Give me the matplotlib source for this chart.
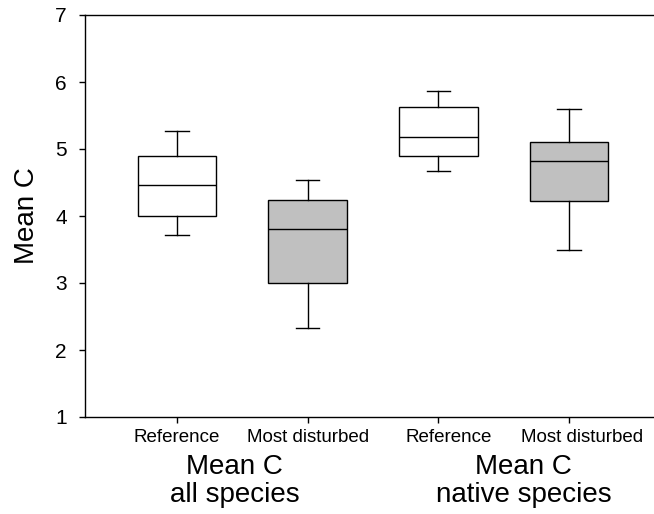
import matplotlib
matplotlib.use("Agg")
import matplotlib.pyplot as plt
import matplotlib.transforms as mtransforms

plt.rcParams['font.family'] = ['Liberation Sans', 'DejaVu Sans']

# box statistics
labels = ["Reference", "Most disturbed", "Reference", "Most disturbed"]
whislo = [3.72, 2.33, 4.67, 3.50]
q1 = [4.00, 3.00, 4.89, 4.23]
med = [4.47, 3.80, 5.18, 4.82]
q3 = [4.90, 4.24, 5.62, 5.10]
whishi = [5.27, 4.53, 5.87, 5.60]
fills = ["white", "#c0c0c0", "white", "#c0c0c0"]
groups = ["Mean C\nall species", "Mean C\nnative species"]

stats = []
for i in range(len(labels)):
    stats.append(dict(label=labels[i], whislo=whislo[i], q1=q1[i], med=med[i],
                      q3=q3[i], whishi=whishi[i], fliers=[]))

fig = plt.figure(figsize=(6.54, 5.14), dpi=100)
ax = fig.add_axes([85/654, 97/514, 569/654, 402/514])

lw = 1.0
bp = ax.bxp(stats, positions=[1, 2, 3, 4], widths=0.6, capwidths=0.18,
            patch_artist=True, showfliers=False,
            boxprops=dict(linewidth=lw, edgecolor="black"),
            medianprops=dict(color="black", linewidth=lw),
            whiskerprops=dict(color="black", linewidth=lw),
            capprops=dict(color="black", linewidth=lw))
for patch, c in zip(bp["boxes"], fills):
    patch.set_facecolor(c)

ax.set_xlim(0.296, 4.65)
ax.set_ylim(1, 7)
ax.set_yticks(range(1, 8))
ax.tick_params(axis="y", labelsize=15, length=4, width=1, direction="out", pad=9)
ax.tick_params(axis="x", labelsize=13.5, length=4, width=1, direction="out", pad=5)
ax.set_ylabel("Mean C", fontsize=20, labelpad=11)

# the right-hand pair of labels sits a little right of its ticks
shift = [0, 0, 10, 13]
for lab, dx in zip(ax.get_xticklabels(), shift):
    off = mtransforms.ScaledTranslation(dx / 100, 0, fig.dpi_scale_trans)
    lab.set_transform(lab.get_transform() + off)

for s in ["left", "top", "bottom"]:
    ax.spines[s].set_linewidth(1)
ax.spines["right"].set_visible(False)

gx = [1.44, 3.65]
for x, g in zip(gx, groups):
    ax.text(x, -0.093, g, transform=ax.get_xaxis_transform(), ha="center",
            va="top", fontsize=20, linespacing=1.08)

fig.savefig("out.png", dpi=100)
